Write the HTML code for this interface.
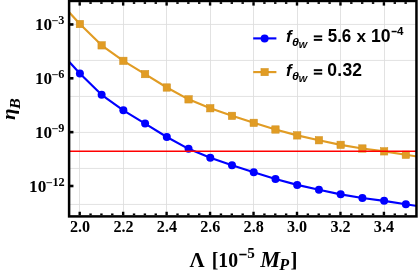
<!DOCTYPE html>
<html><head><meta charset="utf-8"><title>plot</title>
<style>html,body{margin:0;padding:0;background:#fff;}svg{display:block;}text{white-space:pre;}svg{will-change:transform;}</style></head>
<body>
<svg width="419" height="273" viewBox="0 0 419 273">
<rect width="419" height="273" fill="#fff"/>
<defs><clipPath id="c"><rect x="69.1" y="0.95" width="347.35" height="215.45000000000002"/></clipPath></defs>
<g stroke="#dddddd" stroke-width="0.85"><line x1="79.50" y1="0.95" x2="79.50" y2="216.4"/><line x1="123.50" y1="0.95" x2="123.50" y2="216.4"/><line x1="166.50" y1="0.95" x2="166.50" y2="216.4"/><line x1="210.50" y1="0.95" x2="210.50" y2="216.4"/><line x1="253.50" y1="0.95" x2="253.50" y2="216.4"/><line x1="297.50" y1="0.95" x2="297.50" y2="216.4"/><line x1="340.50" y1="0.95" x2="340.50" y2="216.4"/><line x1="384.50" y1="0.95" x2="384.50" y2="216.4"/><line x1="69.1" y1="24.45" x2="416.45" y2="24.45"/><line x1="69.1" y1="60.45" x2="416.45" y2="60.45"/><line x1="69.1" y1="96.45" x2="416.45" y2="96.45"/><line x1="69.1" y1="132.45" x2="416.45" y2="132.45"/><line x1="69.1" y1="168.45" x2="416.45" y2="168.45"/><line x1="69.1" y1="204.45" x2="416.45" y2="204.45"/></g>
<g clip-path="url(#c)">
<polyline fill="none" stroke="#0000ff" stroke-width="2.15" stroke-linejoin="round" points="58.17,49.65 79.90,73.55 101.63,94.85 123.36,110.35 145.09,123.60 166.82,137.00 188.55,148.85 210.28,157.75 232.01,165.35 253.74,172.35 275.47,179.00 297.20,184.90 318.93,189.75 340.66,194.35 362.39,198.00 384.12,200.85 405.85,204.30 427.58,207.67"/>
<circle cx="79.90" cy="73.55" r="4.0" fill="#0000ff"/>
<circle cx="101.63" cy="94.85" r="4.0" fill="#0000ff"/>
<circle cx="123.36" cy="110.35" r="4.0" fill="#0000ff"/>
<circle cx="145.09" cy="123.60" r="4.0" fill="#0000ff"/>
<circle cx="166.82" cy="137.00" r="4.0" fill="#0000ff"/>
<circle cx="188.55" cy="148.85" r="4.0" fill="#0000ff"/>
<circle cx="210.28" cy="157.75" r="4.0" fill="#0000ff"/>
<circle cx="232.01" cy="165.35" r="4.0" fill="#0000ff"/>
<circle cx="253.74" cy="172.35" r="4.0" fill="#0000ff"/>
<circle cx="275.47" cy="179.00" r="4.0" fill="#0000ff"/>
<circle cx="297.20" cy="184.90" r="4.0" fill="#0000ff"/>
<circle cx="318.93" cy="189.75" r="4.0" fill="#0000ff"/>
<circle cx="340.66" cy="194.35" r="4.0" fill="#0000ff"/>
<circle cx="362.39" cy="198.00" r="4.0" fill="#0000ff"/>
<circle cx="384.12" cy="200.85" r="4.0" fill="#0000ff"/>
<circle cx="405.85" cy="204.30" r="4.0" fill="#0000ff"/>
<polyline fill="none" stroke="#e19c24" stroke-width="2.15" stroke-linejoin="round" points="58.17,0.15 79.90,24.05 101.63,45.35 123.36,60.85 145.09,74.10 166.82,87.50 188.55,99.35 210.28,108.25 232.01,115.85 253.74,122.85 275.47,129.50 297.20,135.40 318.93,140.25 340.66,144.85 362.39,148.50 384.12,151.35 405.85,154.80 427.58,158.17"/>
<rect x="76.20" y="20.35" width="7.4" height="7.4" fill="#e19c24" stroke="#cf9020" stroke-width="0.5"/>
<rect x="97.93" y="41.65" width="7.4" height="7.4" fill="#e19c24" stroke="#cf9020" stroke-width="0.5"/>
<rect x="119.66" y="57.15" width="7.4" height="7.4" fill="#e19c24" stroke="#cf9020" stroke-width="0.5"/>
<rect x="141.39" y="70.40" width="7.4" height="7.4" fill="#e19c24" stroke="#cf9020" stroke-width="0.5"/>
<rect x="163.12" y="83.80" width="7.4" height="7.4" fill="#e19c24" stroke="#cf9020" stroke-width="0.5"/>
<rect x="184.85" y="95.65" width="7.4" height="7.4" fill="#e19c24" stroke="#cf9020" stroke-width="0.5"/>
<rect x="206.58" y="104.55" width="7.4" height="7.4" fill="#e19c24" stroke="#cf9020" stroke-width="0.5"/>
<rect x="228.31" y="112.15" width="7.4" height="7.4" fill="#e19c24" stroke="#cf9020" stroke-width="0.5"/>
<rect x="250.04" y="119.15" width="7.4" height="7.4" fill="#e19c24" stroke="#cf9020" stroke-width="0.5"/>
<rect x="271.77" y="125.80" width="7.4" height="7.4" fill="#e19c24" stroke="#cf9020" stroke-width="0.5"/>
<rect x="293.50" y="131.70" width="7.4" height="7.4" fill="#e19c24" stroke="#cf9020" stroke-width="0.5"/>
<rect x="315.23" y="136.55" width="7.4" height="7.4" fill="#e19c24" stroke="#cf9020" stroke-width="0.5"/>
<rect x="336.96" y="141.15" width="7.4" height="7.4" fill="#e19c24" stroke="#cf9020" stroke-width="0.5"/>
<rect x="358.69" y="144.80" width="7.4" height="7.4" fill="#e19c24" stroke="#cf9020" stroke-width="0.5"/>
<rect x="380.42" y="147.65" width="7.4" height="7.4" fill="#e19c24" stroke="#cf9020" stroke-width="0.5"/>
<rect x="402.15" y="151.10" width="7.4" height="7.4" fill="#e19c24" stroke="#cf9020" stroke-width="0.5"/>
<line x1="69.1" y1="151.3" x2="416.45" y2="151.3" stroke="#ff0000" stroke-width="1.55"/>
</g>
<g stroke="#000" stroke-width="2.4"><line x1="79.70" y1="215.20000000000002" x2="79.70" y2="211.75"/><line x1="79.70" y1="2.15" x2="79.70" y2="5.60"/><line x1="90.56" y1="215.20000000000002" x2="90.56" y2="213.45"/><line x1="90.56" y1="2.15" x2="90.56" y2="3.90"/><line x1="101.43" y1="215.20000000000002" x2="101.43" y2="213.45"/><line x1="101.43" y1="2.15" x2="101.43" y2="3.90"/><line x1="112.29" y1="215.20000000000002" x2="112.29" y2="213.45"/><line x1="112.29" y1="2.15" x2="112.29" y2="3.90"/><line x1="123.16" y1="215.20000000000002" x2="123.16" y2="211.75"/><line x1="123.16" y1="2.15" x2="123.16" y2="5.60"/><line x1="134.03" y1="215.20000000000002" x2="134.03" y2="213.45"/><line x1="134.03" y1="2.15" x2="134.03" y2="3.90"/><line x1="144.89" y1="215.20000000000002" x2="144.89" y2="213.45"/><line x1="144.89" y1="2.15" x2="144.89" y2="3.90"/><line x1="155.76" y1="215.20000000000002" x2="155.76" y2="213.45"/><line x1="155.76" y1="2.15" x2="155.76" y2="3.90"/><line x1="166.62" y1="215.20000000000002" x2="166.62" y2="211.75"/><line x1="166.62" y1="2.15" x2="166.62" y2="5.60"/><line x1="177.49" y1="215.20000000000002" x2="177.49" y2="213.45"/><line x1="177.49" y1="2.15" x2="177.49" y2="3.90"/><line x1="188.35" y1="215.20000000000002" x2="188.35" y2="213.45"/><line x1="188.35" y1="2.15" x2="188.35" y2="3.90"/><line x1="199.21" y1="215.20000000000002" x2="199.21" y2="213.45"/><line x1="199.21" y1="2.15" x2="199.21" y2="3.90"/><line x1="210.08" y1="215.20000000000002" x2="210.08" y2="211.75"/><line x1="210.08" y1="2.15" x2="210.08" y2="5.60"/><line x1="220.94" y1="215.20000000000002" x2="220.94" y2="213.45"/><line x1="220.94" y1="2.15" x2="220.94" y2="3.90"/><line x1="231.81" y1="215.20000000000002" x2="231.81" y2="213.45"/><line x1="231.81" y1="2.15" x2="231.81" y2="3.90"/><line x1="242.68" y1="215.20000000000002" x2="242.68" y2="213.45"/><line x1="242.68" y1="2.15" x2="242.68" y2="3.90"/><line x1="253.54" y1="215.20000000000002" x2="253.54" y2="211.75"/><line x1="253.54" y1="2.15" x2="253.54" y2="5.60"/><line x1="264.41" y1="215.20000000000002" x2="264.41" y2="213.45"/><line x1="264.41" y1="2.15" x2="264.41" y2="3.90"/><line x1="275.27" y1="215.20000000000002" x2="275.27" y2="213.45"/><line x1="275.27" y1="2.15" x2="275.27" y2="3.90"/><line x1="286.14" y1="215.20000000000002" x2="286.14" y2="213.45"/><line x1="286.14" y1="2.15" x2="286.14" y2="3.90"/><line x1="297.00" y1="215.20000000000002" x2="297.00" y2="211.75"/><line x1="297.00" y1="2.15" x2="297.00" y2="5.60"/><line x1="307.86" y1="215.20000000000002" x2="307.86" y2="213.45"/><line x1="307.86" y1="2.15" x2="307.86" y2="3.90"/><line x1="318.73" y1="215.20000000000002" x2="318.73" y2="213.45"/><line x1="318.73" y1="2.15" x2="318.73" y2="3.90"/><line x1="329.60" y1="215.20000000000002" x2="329.60" y2="213.45"/><line x1="329.60" y1="2.15" x2="329.60" y2="3.90"/><line x1="340.46" y1="215.20000000000002" x2="340.46" y2="211.75"/><line x1="340.46" y1="2.15" x2="340.46" y2="5.60"/><line x1="351.32" y1="215.20000000000002" x2="351.32" y2="213.45"/><line x1="351.32" y1="2.15" x2="351.32" y2="3.90"/><line x1="362.19" y1="215.20000000000002" x2="362.19" y2="213.45"/><line x1="362.19" y1="2.15" x2="362.19" y2="3.90"/><line x1="373.06" y1="215.20000000000002" x2="373.06" y2="213.45"/><line x1="373.06" y1="2.15" x2="373.06" y2="3.90"/><line x1="383.92" y1="215.20000000000002" x2="383.92" y2="211.75"/><line x1="383.92" y1="2.15" x2="383.92" y2="5.60"/><line x1="394.79" y1="215.20000000000002" x2="394.79" y2="213.45"/><line x1="394.79" y1="2.15" x2="394.79" y2="3.90"/><line x1="405.65" y1="215.20000000000002" x2="405.65" y2="213.45"/><line x1="405.65" y1="2.15" x2="405.65" y2="3.90"/><line x1="69.1" y1="24.45" x2="73.44999999999999" y2="24.45" stroke-width="2.6"/><line x1="69.1" y1="78.30" x2="73.44999999999999" y2="78.30" stroke-width="2.6"/><line x1="69.1" y1="132.15" x2="73.44999999999999" y2="132.15" stroke-width="2.6"/><line x1="69.1" y1="186.00" x2="73.44999999999999" y2="186.00" stroke-width="2.6"/></g>
<rect x="69.1" y="0.95" width="347.35" height="215.45000000000002" fill="none" stroke="#000" stroke-width="2.5"/>
<g font-family="'Liberation Serif', serif" font-weight="bold" fill="#000">
<text transform="translate(80.10,232.3) scale(0.98,1.05)" font-size="16.5" text-anchor="middle">2.0</text>
<text transform="translate(123.50,232.3) scale(0.98,1.05)" font-size="16.5" text-anchor="middle">2.2</text>
<text transform="translate(166.90,232.3) scale(0.98,1.05)" font-size="16.5" text-anchor="middle">2.4</text>
<text transform="translate(210.30,232.3) scale(0.98,1.05)" font-size="16.5" text-anchor="middle">2.6</text>
<text transform="translate(253.70,232.3) scale(0.98,1.05)" font-size="16.5" text-anchor="middle">2.8</text>
<text transform="translate(297.10,232.3) scale(0.98,1.05)" font-size="16.5" text-anchor="middle">3.0</text>
<text transform="translate(340.50,232.3) scale(0.98,1.05)" font-size="16.5" text-anchor="middle">3.2</text>
<text transform="translate(383.90,232.3) scale(0.98,1.05)" font-size="16.5" text-anchor="middle">3.4</text>
<text x="35.00" y="30.20" font-size="17.2">10</text>
<text x="51.30" y="25.20" font-size="12.3">−</text>
<text x="58.31" y="24.40" font-size="12.3">3</text>
<text x="35.00" y="84.10" font-size="17.2">10</text>
<text x="51.30" y="79.10" font-size="12.3">−</text>
<text x="58.31" y="78.30" font-size="12.3">6</text>
<text x="35.00" y="138.00" font-size="17.2">10</text>
<text x="51.30" y="133.00" font-size="12.3">−</text>
<text x="58.31" y="132.20" font-size="12.3">9</text>
<text x="29.10" y="191.90" font-size="17.2">10</text>
<text x="45.40" y="186.90" font-size="12.3">−</text>
<text x="52.41" y="186.10" font-size="12.3">12</text>
<text x="189.5" y="266.8" font-size="21">Λ</text>
<text transform="translate(211.8,266.8) scale(0.94,1)" font-size="21">[10</text>
<rect x="239.3" y="253.75" width="7.3" height="1.6" fill="#000"/>
<text x="247.3" y="258" font-size="15.2">5</text>
<text x="260.2" y="266.8" font-size="22.3" font-style="italic">M</text>
<text x="279.2" y="269.6" font-size="16.2" font-style="italic">P</text>
<text x="290.4" y="266.9" font-size="21">]</text>
<text transform="translate(15.1,120.05) rotate(-90) scale(1,0.905)" font-size="21" font-style="italic">η</text>
<text transform="translate(19.7,109.0) rotate(-90) scale(1.117,1)" font-size="14.5" font-style="italic">B</text>
</g>
<line x1="253.2" y1="38.4" x2="276.4" y2="38.4" stroke="#0000ff" stroke-width="2.15"/>
<circle cx="264.6" cy="38.4" r="4.0" fill="#0000ff"/>
<line x1="253.2" y1="72.1" x2="276.4" y2="72.1" stroke="#e19c24" stroke-width="2.15"/>
<rect x="260.95" y="68.45" width="7.3" height="7.3" fill="#e19c24" stroke="#cf9020" stroke-width="0.5"/>
<g font-family="'Liberation Sans', sans-serif" font-weight="bold" fill="#000">
<text x="286" y="42.4" font-size="17" font-style="italic">f</text>
<text transform="translate(292.1,46.0) scale(1.1,1)" font-size="11.4" font-style="italic">θ</text>
<text x="298.6" y="47.8" font-size="9.2" font-style="italic">W</text>
<rect x="313.8" y="35.40" width="8.4" height="1.95" fill="#000"/><rect x="313.8" y="38.90" width="8.4" height="1.95" fill="#000"/>
<text x="286" y="76.2" font-size="17" font-style="italic">f</text>
<text transform="translate(292.1,79.8) scale(1.1,1)" font-size="11.4" font-style="italic">θ</text>
<text x="298.6" y="81.60000000000001" font-size="9.2" font-style="italic">W</text>
<rect x="313.8" y="69.20" width="8.4" height="1.95" fill="#000"/><rect x="313.8" y="72.70" width="8.4" height="1.95" fill="#000"/>
<text transform="translate(327.7,42.4) scale(1,1.05)" font-size="17">5.6</text>
<text x="356.5" y="42.4" font-size="17.2">x</text>
<text x="370.9" y="42.4" font-size="17.6">10</text>
<rect x="391.6" y="30.8" width="5.1" height="1.5" fill="#000"/>
<text x="397.0" y="35.1" font-size="11.6">4</text>
<text x="327.3" y="76.2" font-size="17.5" letter-spacing="0.25">0.32</text>
</g>
</svg>
</body></html>
